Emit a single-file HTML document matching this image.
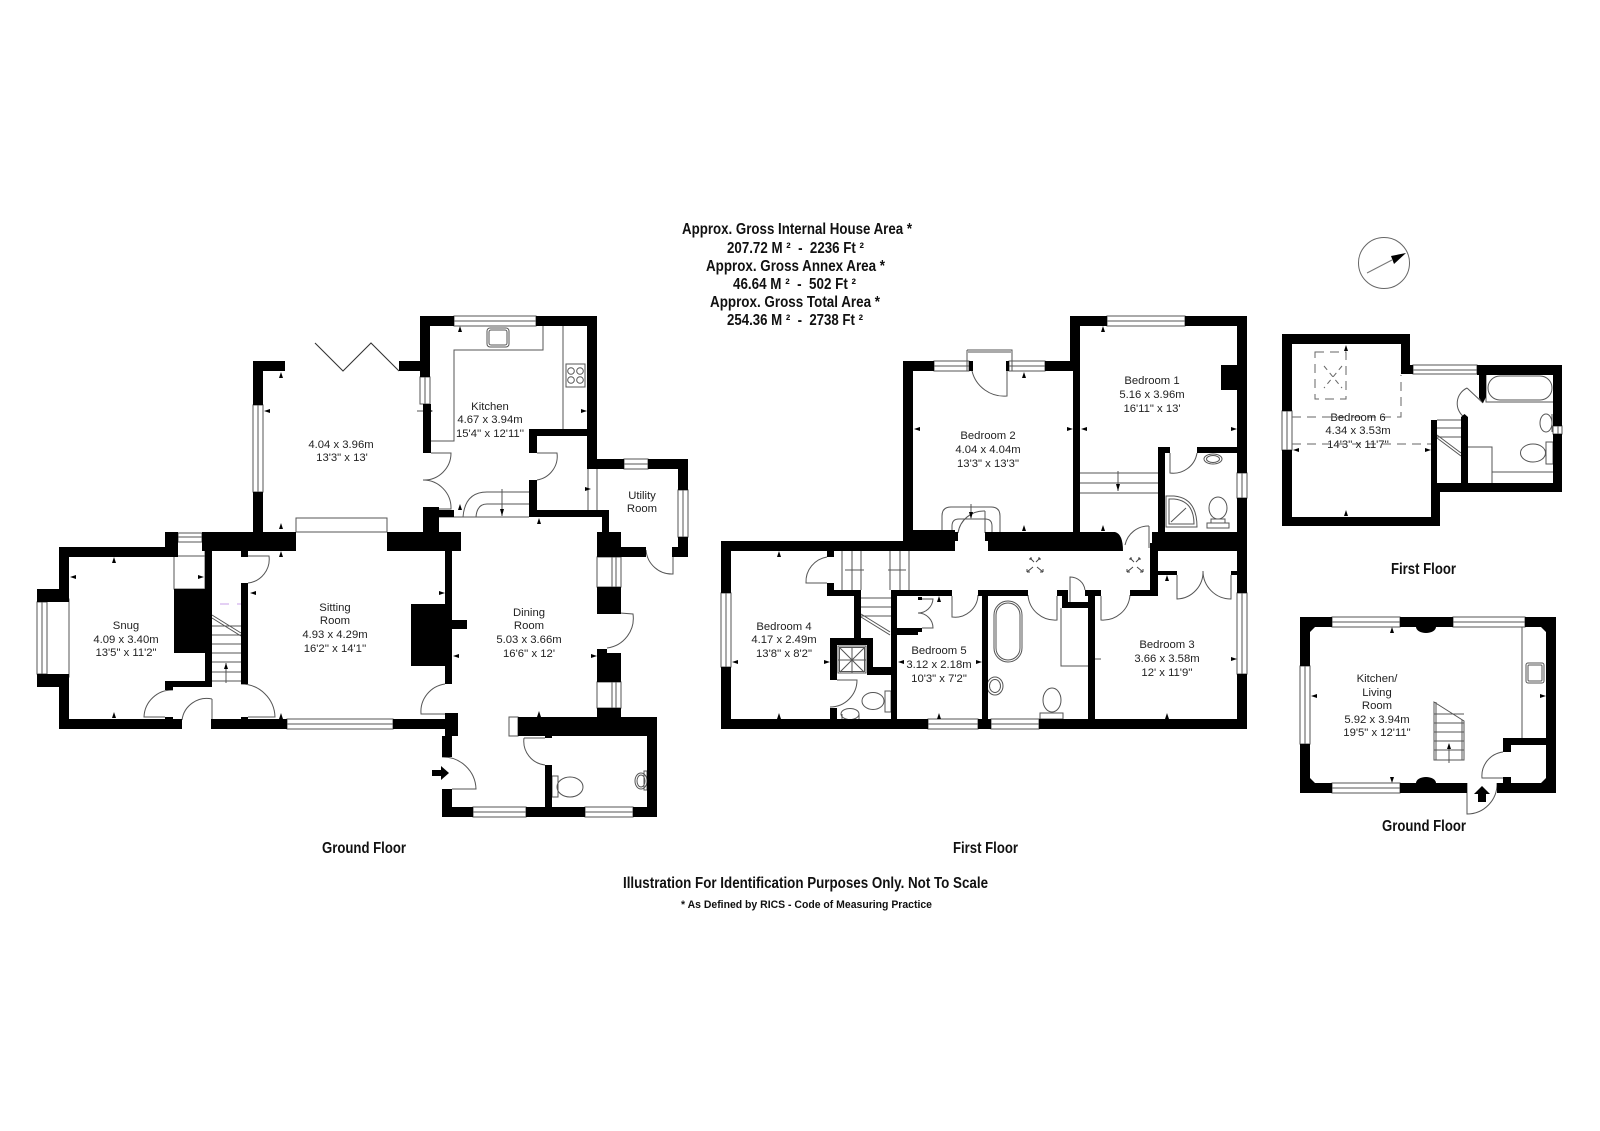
<!DOCTYPE html>
<html><head><meta charset="utf-8"><title>Floor plan</title>
<style>
html,body{margin:0;padding:0;background:#fff;width:1600px;height:1131px;overflow:hidden}
svg{display:block}
text{font-family:"Liberation Sans",sans-serif}
.r text{font-size:11.3px;fill:#222;text-anchor:middle}
.h text{font-weight:bold;fill:#111}
</style></head><body>
<svg width="1600" height="1131" viewBox="0 0 1600 1131" xmlns="http://www.w3.org/2000/svg">
<rect width="1600" height="1131" fill="#fff"/>

<!-- thin fixtures -->
<g fill="none" stroke="#555" stroke-width="1">
<!-- windows -->
<path d="M253 405H263V492H253ZM258 405V492"/>
<path d="M454 316H536V326H454ZM454 321H536"/>
<path d="M420 377H430V404H420ZM425 377V404"/>
<path d="M624 459H648V469H624ZM624 464H648"/>
<path d="M678 490H688V537H678ZM683 490V537"/>
<path d="M178 533H202V542H178ZM178 537H202"/>
<path d="M37 602H47V674H37ZM42 602V674M47 599H69V677H47"/>
<path d="M287 719H393V729H287ZM287 724H393"/>
<path d="M473 807H526V817H473ZM473 812H526"/>
<path d="M585 807H633V817H585ZM585 812H633"/>
<path d="M597 557H621V587H597ZM612 557H621V587H612ZM616 557V587"/>
<path d="M597 682H621V708H597ZM612 682H621V708H612ZM616 682V708"/>
<path d="M296 518H387V532H296Z"/>
<path d="M509 717H518V736H509Z"/>
<path d="M174 542H205V589H174ZM174 556H205"/>
<path d="M588 469V510M597 469V510"/>
<!-- ground doors -->
<path d="M248 583A24 24 0 0 0 269 556H248"/>
<path d="M241 684A34 34 0 0 1 275 717H248"/>
<path d="M212 699A25 25 0 0 0 182 720M212 699V720"/>
<path d="M173 690A28 28 0 0 0 144 717H165"/>
<path d="M445 684A28 28 0 0 0 421 714H445"/>
<path d="M442 757A33 33 0 0 1 476 789H452"/>
<path d="M524 738A24 24 0 0 0 545 765M524 738H545"/>
<path d="M646 550A26 26 0 0 0 673 574V550"/>
<path d="M607 648A30 30 0 0 0 633 614L607 612"/>
<path d="M431 453H451A27 27 0 0 1 423 480A28 28 0 0 1 451 509H431"/>
<path d="M537 453H557A24 24 0 0 1 537 480"/>
<!-- kitchen -->
<path d="M431 441H454V350H543V326"/>
<path d="M563 326V429"/>
<rect x="487" y="328" width="22" height="19" rx="3"/>
<rect x="489" y="330" width="18" height="15" rx="2"/>
<rect x="566" y="364" width="19" height="23"/>
<circle cx="571" cy="371" r="3.3"/><circle cx="580" cy="371" r="3.3"/><circle cx="571" cy="380" r="3.3"/><circle cx="580" cy="380" r="3.3"/>
<path d="M463 517Q465 492 487 492H529M476 517Q477 504 487 504H529M439 517H529"/>
<path d="M502 489V516"/>
<!-- ground stairs -->
<path d="M212 626H241M212 635H241M212 644H241M212 653H241M212 662H241M212 672H241M212 681H241"/>
<path d="M212 615L241 633M212 618L241 636M226 683V663"/>
<path d="M417 411H431"/>
<!-- WC -->
<rect x="552" y="776" width="6" height="21"/>
<ellipse cx="570" cy="787" rx="13" ry="10"/>
<path d="M644 771H647V790H644Z"/>
<ellipse cx="641" cy="781" rx="6" ry="8"/><ellipse cx="641" cy="781" rx="4" ry="6"/>

<!-- first floor windows -->
<path d="M934 361H969V371H934ZM934 366H969"/>
<path d="M1009 361H1045V371H1009ZM1009 366H1045"/>
<path d="M967 350H1012V371M967 350V371M968 352H1011"/>
<path d="M1107 316H1185V326H1107ZM1107 321H1185"/>
<path d="M1237 473H1247V498H1237ZM1242 473V498"/>
<path d="M721 593H731V667H721ZM726 593V667"/>
<path d="M1237 593H1247V674H1237ZM1242 593V674"/>
<path d="M928 719H978V729H928ZM928 724H978"/>
<path d="M991 719H1039V729H991ZM991 724H1039"/>
<!-- first floor doors -->
<path d="M1007 371V396A33 33 0 0 1 972 371"/>
<path d="M1170 453V473A24 24 0 0 0 1197 453"/>
<path d="M1149 526A24 24 0 0 0 1125 545M1149 526V548"/>
<path d="M985 511A26 26 0 0 0 958 533M985 511V533"/>
<path d="M1028 595A27 27 0 0 0 1057 620V596"/>
<path d="M1130 595A27 27 0 0 1 1101 620V596"/>
<path d="M978 595A23 23 0 0 1 952 617V596"/>
<path d="M1070 602V577A15 15 0 0 1 1085 590"/>
<path d="M827 557A25 25 0 0 0 806 583H827"/>
<path d="M837 680H857A27 27 0 0 1 830 707"/>
<path d="M922 599H933A15 15 0 0 1 918 613A15 15 0 0 1 933 628H922"/>
<path d="M1177 575V599A27 27 0 0 0 1203 571A28 28 0 0 0 1231 599V575"/>
<!-- stairs first -->
<path d="M842 551V590M852 551V590M861 551V590M890 551V590M900 551V590M909 551V590"/>
<path d="M845 570H864M888 570H906"/>
<path d="M861 598H891M861 607H891M861 616H891"/>
<path d="M861 614L890 632M861 617L890 635"/>
<path d="M1080 473H1158M1080 483H1158M1080 493H1158M1118 471V491"/>
<path d="M942 532V516Q942 507 951 507H991Q1000 507 1000 516V532M952 532V526Q952 519 959 519H985Q992 519 992 526V532M971 504V518"/>
<!-- bath -->
<rect x="994" y="601" width="28" height="61" rx="14"/>
<rect x="996" y="603" width="24" height="57" rx="12"/>
<ellipse cx="995" cy="686" rx="8" ry="9"/><ellipse cx="995" cy="686" rx="5.5" ry="6.5"/>
<ellipse cx="1052" cy="700" rx="9" ry="12"/>
<rect x="1040" y="713" width="23" height="6"/>
<path d="M1061 608V666H1088M1095 659H1101"/>
<ellipse cx="873" cy="701" rx="11" ry="8.5"/>
<rect x="885" y="691" width="6" height="21"/>
<ellipse cx="850" cy="714" rx="9" ry="5.5"/><path d="M842 719V714M859 719V714"/>
<rect x="838" y="646" width="28" height="27"/><rect x="839.500" y="647.500" width="25" height="24"/>
<path d="M840 648L864 672M864 648L840 672M852 647V673M838 660H866"/>
<!-- en-suite -->
<ellipse cx="1213" cy="459" rx="9" ry="5"/><ellipse cx="1213" cy="459" rx="6.500" ry="3.500"/>
<ellipse cx="1218" cy="508" rx="9" ry="11"/>
<rect x="1207" y="523" width="22" height="5"/>
<path d="M1211 519H1225V523H1211Z"/>
<path d="M1166 496H1174Q1197 498 1197 527H1166ZM1169 499H1174Q1194 501 1194 524H1169Z"/>
<path d="M1171 522L1186 508"/>
<!-- annex first -->
<path d="M1282 411H1292V450H1282ZM1287 411V450"/>
<path d="M1413 365H1477V374H1413ZM1413 370H1477"/>
<path d="M1553 426H1562V434H1553ZM1558 426V434"/>
<path d="M1467 388L1483 403M1467 388A17 17 0 0 0 1464 417"/>
<rect x="1488" y="376" width="64" height="24" rx="12"/>
<path d="M1486 374V402H1553"/>
<ellipse cx="1546" cy="423" rx="6" ry="9"/><path d="M1552 414V432"/>
<ellipse cx="1533" cy="453" rx="12.500" ry="9"/>
<rect x="1546" y="442" width="7" height="22"/>
<path d="M1468 447H1492V483M1492 472H1553"/>
<path d="M1437 420H1461M1437 428H1461M1437 437H1461"/>
<path d="M1437 435L1461 453M1437 438L1461 456"/>
<g stroke-dasharray="9 6" stroke="#666">
<path d="M1292 417H1401V375"/>
<path d="M1292 444H1431"/>
<rect x="1315" y="352" width="31" height="47"/>
<path d="M1324 366L1342 388M1342 366L1324 388" stroke-dasharray="5 4"/>
</g>
<!-- annex ground -->
<path d="M1332 617H1400V627H1332ZM1332 622H1400"/>
<path d="M1453 617H1525V627H1453ZM1453 622H1525"/>
<path d="M1332 783H1400V793H1332ZM1332 788H1400"/>
<path d="M1300 666H1310V744H1300ZM1305 666V744"/>
<path d="M1522 627V738"/>
<rect x="1526" y="663" width="18" height="20" rx="2"/>
<rect x="1528" y="665" width="14" height="16" rx="1"/>
<path d="M1503 752A24 24 0 0 0 1482 778H1503"/>
<path d="M1467 783V814A30 30 0 0 0 1497 783"/>
<path d="M1434 702L1464 721V760H1434ZM1436 702V760M1462 720V760"/>
<path d="M1434 714H1464M1434 723H1464M1434 732H1464M1434 741H1464M1434 750H1464M1449 763V744"/>
<!-- compass -->
<circle cx="1384" cy="263" r="25.500" stroke="#666"/>
<path d="M1367 273L1392 260" stroke="#777"/>
</g>

<!-- bifold doors -->
<path d="M315 343L343 371L371 343L399 371" fill="none" stroke="#333" stroke-width="1.100"/>

<!-- walls -->
<path fill="#000" d="
M253 361H263V405H253Z M253 361H285V371H253Z M253 492H263V532H253Z M399 361H424V371H399Z
M420 316H430V377H420Z M421 316H454V326H421Z M536 316H597V326H536Z M587 316H597V469H587Z
M587 459H624V469H587Z M648 459H688V469H648Z M678 459H688V490H678Z M678 537H688V557H678Z M672 547H688V557H672Z
M423 404H431V453H423Z M529 429H587V436H529Z M529 429H537V453H529Z M529 480H537V517H529Z M529 510H609V517H529Z
M602 510H609V532H602Z M597 532H621V557H597Z M621 547H646V557H621Z M423 507H439V532H423Z M423 510H454V517H423Z
M387 532H461V551H387Z M202 532H296V551H202Z M165 532H178V557H165Z M59 547H178V557H59Z M59 547H69V589H59Z
M37 589H69V602H37Z M37 674H69V687H37Z M59 674H69V729H59Z M59 719H182V729H59Z M174 589H212V653H174Z M205 551H212V687H205Z
M165 681H212V687H165Z M165 681H173V690H165Z M165 717H173V720H165Z M211 719H287V729H211Z M393 719H458V729H393Z M445 713H458V736H445Z
M241 550H248V557H241Z M241 583H248V684H241Z M241 717H248V720H241Z M445 550H452V684H445Z M411 604H445V666H411Z M452 620H467V629H452Z
M442 736H452V757H442Z M442 789H452V817H442Z M442 807H473V817H442Z M526 807H585V817H526Z M633 807H657V817H633Z M647 717H657V817H647Z
M518 717H657V736H518Z M545 736H552V738H545Z M545 765H552V807H545Z M597 587H621V614H597Z M597 649H607V653H597Z M597 653H621V682H597Z M597 708H621V717H597Z
M721 541H731V593H721Z M721 667H731V729H721Z M721 541H955V551H721Z M903 530H955V551H903Z M721 719H928V729H721Z M978 719H991V729H978Z M1039 719H1247V729H1039Z
M903 361H913V550H903Z M903 361H934V371H903Z M969 361H973V371H969Z M1006 361H1009V371H1006Z M1045 361H1080V371H1045Z M1073 361H1080V532H1073Z
M1070 316H1080V371H1070Z M1070 316H1107V326H1070Z M1185 316H1247V326H1185Z M1237 316H1247V473H1237Z M1237 498H1247V593H1237Z M1237 674H1247V729H1237Z
M1221 365H1237V390H1221Z M1158 447H1165V532H1158Z M1158 447H1170V453H1158Z M1197 447H1247V453H1197Z M903 532H958V541H903Z
M985 532H1115Q1123 534 1123 551H988V541H985Z M1152 532H1247V551H1152Z M1150 543H1158V596H1150Z M1130 590H1158V596H1130Z M1085 590H1101V596H1085Z M1057 590H1068V596H1057Z
M1062 590H1068V608H1062Z M1062 602H1095V608H1062Z M1088 590H1095V729H1088Z M978 590H1028V596H978Z M982 596H988V729H982Z M892 590H952V596H892Z M891 590H897V729H891Z
M918 597H922V600H918Z M897 628H922V632H897Z M897 630H918V635H897Z M827 551H834V557H827Z M827 583H834V596H827Z M827 590H861V596H827Z M854 590H861V638H854Z
M830 638H873V645H830Z M830 638H837V680H830Z M867 638H873V675H867Z M867 667H892V675H867Z M830 708H837V719H830Z M1158 571H1177V575H1158Z M1231 571H1237V575H1231Z
M1282 334H1292V411H1282Z M1282 450H1292V526H1282Z M1282 517H1440V526H1282Z M1431 483H1440V526H1431Z M1431 420H1437V483H1431Z M1431 483H1562V492H1431Z
M1553 365H1562V426H1553Z M1553 434H1562V492H1553Z M1477 365H1562V375H1477Z M1282 334H1410V344H1282Z M1401 334H1410V374H1401Z M1401 365H1413V374H1401Z
M1479 375H1486V397L1483 403L1479 398Z M1461 417L1464.500 414L1468 417V483H1461Z
M1300 617H1332V627H1300Z M1400 617H1453V627H1400Z M1525 617H1556V627H1525Z M1300 617H1310V666H1300Z M1300 744H1310V793H1300Z M1546 617H1556V793H1546Z
M1300 783H1332V793H1300Z M1400 783H1467V793H1400Z M1497 783H1556V793H1497Z M1503 738H1546V745H1503Z M1503 738H1511V752H1503Z M1503 777H1511V783H1503Z
M1310 627H1315L1310 632Z M1541 627H1546V632Z M1310 783H1315L1310 778Z M1541 783H1546V778Z
M1416 627H1436A10 6 0 0 1 1416 627Z M1416 783H1436A10 6 0 0 0 1416 783Z
"/>

<!-- entrance arrows -->
<path fill="#000" d="M432 770H441V766L449 773L441 780V776H432Z"/>
<path fill="#000" d="M1478 802V794H1474L1482 786L1490 794H1486V802Z"/>
<path fill="#000" d="M1406 253L1391 256L1394 264Z"/>
<path fill="#000" d="M226 663L224 669H228Z M502 516L500 509H504Z M971 519L969 512H973Z M1118 491L1116 484H1120Z M1449 743L1447 749H1451Z"/>
<!-- dimension ticks -->
<path fill="#000" d="
M281 372l-2 6h4z M264 411l6-2v4z M433 411l-5-2v4z M281 523l-2 6h4z M281 551l-2 6h4z
M114 557l-2 6h4z M70 577l6-2v4z M204 577l-6-2v4z M114 712l-2 6h4z
M250 593l6-2v4z M445 593l-6-2v4z M281 713l-2 6h4z M453 656l6-2v4z M597 656l-6-2v4z M539 711l-2 6h4z
M460 326l-2 6h4z M460 504l-2 6h4z M539 518l-2 6h4z M587 411l-6-2v4z M591 489l-6-2v4z
M779 551l-2 6h4z M732 662l6-2v4z M830 662l-6-2v4z M779 713l-2 6h4z
M898 662l6-2v4z M982 662l-6-2v4z M939 596l-2 6h4z M939 713l-2 6h4z
M1024 372l-2 6h4z M914 429l6-2v4z M1073 429l-6-2v4z M1024 525l-2 6h4z
M1103 326l-2 6h4z M1081 429l6-2v4z M1237 429l-6-2v4z M1103 525l-2 6h4z
M1167 575l-2 6h4z M1237 659l-6-2v4z M1167 713l-2 6h4z
M1346 345l-2 6h4z M1293 450l6-2v4z M1431 450l-6-2v4z M1346 510l-2 6h4z
M1392 627l-2 6h4z M1311 696l6-2v4z M1546 696l-6-2v4z M1392 783l-2 -6h4z
"/>
<!-- purple stray dashes -->
<path stroke="#c9a0e8" stroke-width="1" d="M220 604H229M237 604H241"/>
<!-- skylights -->
<g fill="none" stroke="#444" stroke-width="1">
<path d="M1030 558l4 4M1030 558h2M1030 558v2M1040 558l-4 4M1040 558h-2M1040 558v2M1027 572l6-5M1027 572h3M1027 572v-3M1043 572l-6-5M1043 572h-3M1043 572v-3"/>
<path d="M1130 558l4 4M1130 558h2M1130 558v2M1140 558l-4 4M1140 558h-2M1140 558v2M1127 572l6-5M1127 572h3M1127 572v-3M1143 572l-6-5M1143 572h-3M1143 572v-3"/>
</g>

<!-- room labels -->
<g class="r">
<text x="341" y="448">4.04 x 3.96m</text><text x="342" y="461">13'3" x 13'</text>
<text x="126" y="629">Snug</text><text x="126" y="643">4.09 x 3.40m</text><text x="126" y="656">13'5" x 11'2"</text>
<text x="335" y="611">Sitting</text><text x="335" y="624">Room</text><text x="335" y="638">4.93 x 4.29m</text><text x="335" y="652">16'2'' x 14'1''</text>
<text x="490" y="410">Kitchen</text><text x="490" y="423">4.67 x 3.94m</text><text x="490" y="437">15'4'' x 12'11''</text>
<text x="642" y="499">Utility</text><text x="642" y="512">Room</text>
<text x="529" y="616">Dining</text><text x="529" y="629">Room</text><text x="529" y="643">5.03 x 3.66m</text><text x="529" y="657">16'6'' x 12'</text>
<text x="784" y="630">Bedroom 4</text><text x="784" y="643">4.17 x 2.49m</text><text x="784" y="657">13'8'' x 8'2"</text>
<text x="939" y="654">Bedroom 5</text><text x="939" y="668">3.12 x 2.18m</text><text x="939" y="682">10'3" x 7'2"</text>
<text x="1152" y="384">Bedroom 1</text><text x="1152" y="398">5.16 x 3.96m</text><text x="1152" y="412">16'11" x 13'</text>
<text x="988" y="439">Bedroom 2</text><text x="988" y="453">4.04 x 4.04m</text><text x="988" y="467">13'3" x 13'3"</text>
<text x="1167" y="648">Bedroom 3</text><text x="1167" y="662">3.66 x 3.58m</text><text x="1167" y="676">12' x 11'9''</text>
<text x="1358" y="421">Bedroom 6</text><text x="1358" y="434">4.34 x 3.53m</text><text x="1358" y="448">14'3'' x 11'7''</text>
<text x="1377" y="682">Kitchen/</text><text x="1377" y="696">Living</text><text x="1377" y="709">Room</text><text x="1377" y="723">5.92 x 3.94m</text><text x="1377" y="736">19'5" x 12'11"</text>
</g>

<!-- headings -->
<g class="h">
<text x="682" y="234" font-size="15.500" textLength="230" lengthAdjust="spacingAndGlyphs">Approx. Gross Internal House Area *</text>
<text x="727" y="253" font-size="15.500" textLength="137" lengthAdjust="spacingAndGlyphs">207.72 M ²&#160;&#160;-&#160;&#160;2236 Ft ²</text>
<text x="706" y="271" font-size="15.500" textLength="179" lengthAdjust="spacingAndGlyphs">Approx. Gross Annex Area *</text>
<text x="733" y="289" font-size="15.500" textLength="123" lengthAdjust="spacingAndGlyphs">46.64 M ²&#160;&#160;-&#160;&#160;502 Ft ²</text>
<text x="710" y="307" font-size="15.500" textLength="170" lengthAdjust="spacingAndGlyphs">Approx. Gross Total Area *</text>
<text x="727" y="325" font-size="15.500" textLength="136" lengthAdjust="spacingAndGlyphs">254.36 M ²&#160;&#160;-&#160;&#160;2738 Ft ²</text>
<text x="322" y="853" font-size="15.500" textLength="84" lengthAdjust="spacingAndGlyphs">Ground Floor</text>
<text x="953" y="853" font-size="15.500" textLength="65" lengthAdjust="spacingAndGlyphs">First Floor</text>
<text x="1391" y="574" font-size="15.500" textLength="65" lengthAdjust="spacingAndGlyphs">First Floor</text>
<text x="1382" y="831" font-size="15.500" textLength="84" lengthAdjust="spacingAndGlyphs">Ground Floor</text>
<text x="623" y="888" font-size="15.500" textLength="365" lengthAdjust="spacingAndGlyphs">Illustration For Identification Purposes Only. Not To Scale</text>
<text x="681" y="908" font-size="11" textLength="251" lengthAdjust="spacingAndGlyphs">* As Defined by RICS - Code of Measuring Practice</text>
</g>
</svg>
</body></html>
